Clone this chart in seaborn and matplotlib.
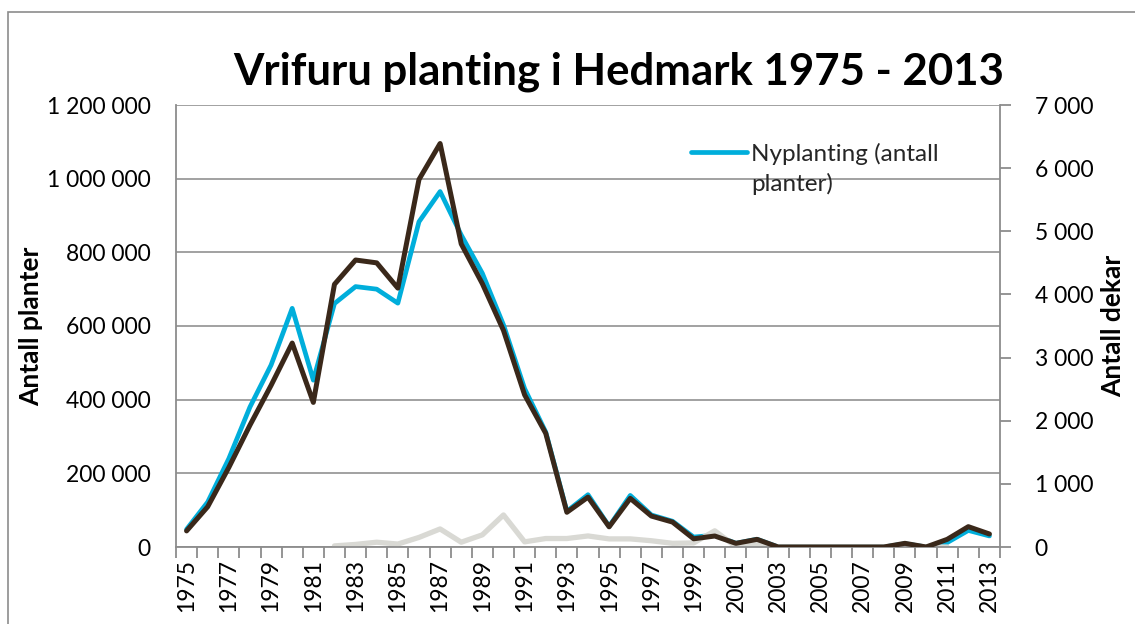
import numpy as np
import pandas as pd
import matplotlib
matplotlib.use("Agg")
import matplotlib.pyplot as plt
from matplotlib.patches import Rectangle
from matplotlib.ticker import FuncFormatter, MultipleLocator
import seaborn as sns

# ---- data ----
years = [1975, 1976, 1977, 1978, 1979, 1980, 1981, 1982, 1983, 1984,
         1985, 1986, 1987, 1988, 1989, 1990, 1991, 1992, 1993, 1994,
         1995, 1996, 1997, 1998, 1999, 2000, 2001, 2002, 2003, 2004,
         2005, 2006, 2007, 2008, 2009, 2010, 2011, 2012, 2013]

nyplanting_planter = [48000, 122000, 240000, 380000, 494000, 648000, 453000, 661000, 707000, 700000,
                      662000, 883000, 965000, 847000, 743000, 603000, 430000, 312000, 97000, 142000,
                      56000, 140000, 87000, 70000, 27000, 32000, 10000, 21000, 0, 0,
                      0, 0, 0, 0, 9000, 0, 12000, 45000, 30000]

nyplanting_dekar = [255, 638, 1260, 1930, 2560, 3230, 2290, 4160, 4545, 4500,
                    4100, 5820, 6390, 4800, 4170, 3430, 2410, 1800, 550, 790,
                    320, 770, 490, 395, 130, 174, 58, 121, 0, 0,
                    0, 0, 0, 0, 58, 0, 121, 322, 206]

supplering_planter = [np.nan, np.nan, np.nan, np.nan, np.nan, np.nan, np.nan, 3000, 7000, 13000,
                      8000, 26000, 49000, 13000, 33000, 87000, 14000, 23000, 23000, 30000,
                      22000, 22000, 17000, 10000, 11000, 44000, 1000, 8000, 0, 0,
                      0, 0, 0, 0, 5000, 0, 0, np.nan, np.nan]

left_ticks = [0, 200000, 400000, 600000, 800000, 1000000, 1200000]
right_ticks = [0, 1000, 2000, 3000, 4000, 5000, 6000, 7000]
label_years = years[::2]

df = pd.DataFrame({
    "År": years,
    "Nyplanting (antall planter)": nyplanting_planter,
    "Nyplanting (antall dekar)": nyplanting_dekar,
    "Supplering (antall planter)": supplering_planter,
})

# ---- style ----
sns.set_theme(style="white")
plt.rcParams["font.family"] = ["Lato", "DejaVu Sans"]

BLUE = "#00AEDB"
BROWN = "#3A281A"
LGRAY = "#D9D9D4"
AXGRAY = "#8C8C8C"
GRIDGRAY = "#9A9A9A"

fig = plt.figure(figsize=(11.35, 6.24), dpi=100)
ax = fig.add_axes([176/1135, 1-547/624, (1000-176)/1135, (547-105)/624])
ax2 = ax.twinx()

sns.lineplot(data=df, x="År", y="Nyplanting (antall planter)", ax=ax, color=BLUE,
             linewidth=3.4, errorbar=None, label="Nyplanting (antall\nplanter)")
sns.lineplot(data=df.dropna(subset=["Supplering (antall planter)"]), x="År",
             y="Supplering (antall planter)", ax=ax, color=LGRAY,
             linewidth=3.8, errorbar=None, legend=False)
sns.lineplot(data=df, x="År", y="Nyplanting (antall dekar)", ax=ax2, color=BROWN,
             linewidth=3.6, errorbar=None, legend=False)

# axes limits / ticks
ax.set_xlim(years[0]-0.5, years[-1]+0.5)
ax.set_ylim(0, 1200000)
ax2.set_ylim(0, 7000)
ax.set_yticks(left_ticks)
ax2.set_yticks(right_ticks)
fmt = FuncFormatter(lambda v, p: f"{int(v):,}".replace(",", " "))
ax.yaxis.set_major_formatter(fmt)
ax2.yaxis.set_major_formatter(fmt)

ax.set_xticks(label_years)
ax.set_xticklabels([str(y) for y in label_years], rotation=90)
ax.xaxis.set_minor_locator(MultipleLocator(1, offset=0.5))
ax.tick_params(axis="x", which="major", length=0, pad=9, labelsize=16.5, labelcolor="black")
ax.tick_params(axis="x", which="minor", length=8, width=1.3, color=AXGRAY, direction="out", bottom=True)
ax.tick_params(axis="y", length=0, pad=18, labelsize=16.5, labelcolor="black")
ax2.tick_params(axis="y", length=8, width=1.3, color=AXGRAY, direction="out", pad=17,
                labelsize=16.5, labelcolor="black")

ax.yaxis.grid(True, color=GRIDGRAY, linewidth=1.3)
ax.xaxis.grid(False)
ax2.grid(False)

for a in (ax, ax2):
    for s in a.spines.values():
        s.set_visible(False)
ax.spines["left"].set_visible(True)
ax.spines["left"].set_color(AXGRAY)
ax.spines["left"].set_linewidth(1.3)
ax.spines["bottom"].set_visible(True)
ax.spines["bottom"].set_color(AXGRAY)
ax.spines["bottom"].set_linewidth(1.3)
ax2.spines["right"].set_visible(True)
ax2.spines["right"].set_color(AXGRAY)
ax2.spines["right"].set_linewidth(1.3)

ax.set_xlabel("")
ax.set_ylabel("Antall planter", fontsize=19, fontweight="bold", color="black")
ax.yaxis.set_label_coords((43-176)/824, 0.5)
ax2.set_ylabel("Antall dekar", fontsize=19, fontweight="bold", color="black", rotation=90)
ax2.yaxis.set_label_coords((1101-176)/824, 0.5)

# legend (only first entry visible, like the reference)
handles, labels = ax.get_legend_handles_labels()
leg = ax.legend(handles[:1], labels[:1], loc="upper left",
                bbox_to_anchor=((691-176)/824, (547-143)/442),
                frameon=False, fontsize=17.5, handlelength=2.3, handletextpad=0.17,
                borderpad=0, borderaxespad=0)
for t in leg.get_texts():
    t.set_linespacing(1.45)
for col in leg._legend_handle_box.get_children():
    for row in col.get_children():
        row.align = "top"

# title
fig.text(619/1135, 1-85/624, "Vrifuru planting i Hedmark 1975 - 2013",
         ha="center", va="baseline", fontsize=31.5, fontweight="bold", color="black")

# outer chart-area border
fig.add_artist(Rectangle((8/1135, -0.1), 2, 1-12/624+0.1, transform=fig.transFigure,
                         fill=False, edgecolor=AXGRAY, linewidth=1.2))

fig.savefig("out.png", dpi=100)
